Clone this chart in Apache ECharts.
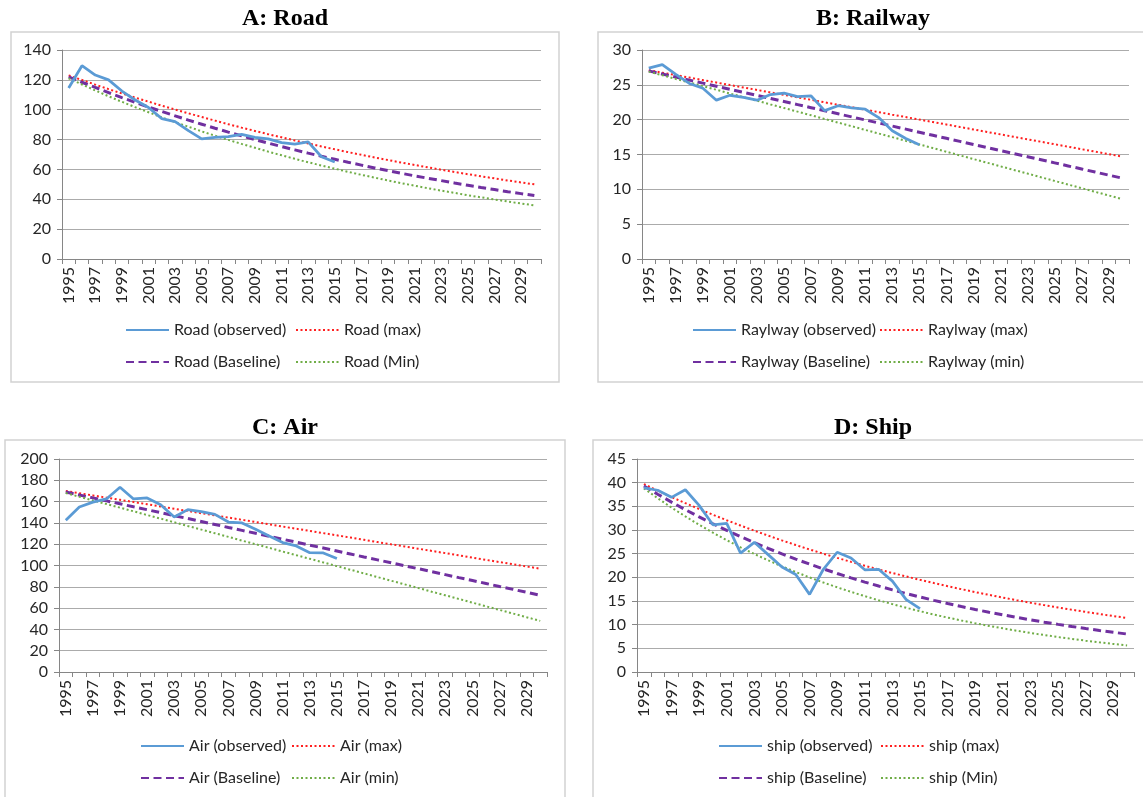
<!DOCTYPE html>
<html lang="en">
<head>
<meta charset="UTF-8">
<title>Transport projections</title>
<script src="https://cdn.jsdelivr.net/npm/echarts@6/dist/echarts.min.js"></script>
<style>
    html, body { margin: 0; padding: 0; background: #fff; }
    #chart { width: 1143px; height: 797px; }
</style>
</head>
<body>
<div id="chart"></div>
<script type="text/javascript">

    var years = ['1995', '1996', '1997', '1998', '1999', '2000', '2001', '2002', '2003', '2004', '2005', '2006',
        '2007', '2008', '2009', '2010', '2011', '2012', '2013', '2014', '2015', '2016', '2017', '2018',
        '2019', '2020', '2021', '2022', '2023', '2024', '2025', '2026', '2027', '2028', '2029', '2030'];

    // A: Road
    var roadObserved = [114.5, 129.5, 123.2, 120, 112.5, 106.5, 101.5, 94, 92, 86, 80.5, 81.5, 82, 83.5, 81.5, 80.5, 78, 77, 78.5, 68.5, 65];
    var roadMax = [123, 119.9, 116.8, 113.8, 110.9, 108.1, 105.4, 102.7, 100.1, 97.6, 95.1, 92.7, 90.3, 88, 85.8, 83.6, 81.5, 79.4,
        77.4, 75.4, 73.5, 71.6, 69.8, 68, 66.3, 64.6, 63, 61.4, 59.8, 58.3, 56.8, 55.4, 54, 52.6, 51.3, 50];
    var roadBaseline = [122, 118.4, 114.9, 111.5, 108.1, 104.9, 101.8, 98.8, 95.9, 93, 90.3, 87.6, 85, 82.5, 80, 77.6, 75.3, 73.1,
        70.9, 68.8, 66.8, 64.8, 62.9, 61, 59.2, 57.4, 55.7, 54.1, 52.5, 50.9, 49.4, 47.9, 46.5, 45.1, 43.8, 42.5];
    var roadMin = [121, 116.9, 112.9, 109, 105.3, 101.7, 98.3, 94.9, 91.7, 88.6, 85.5, 82.6, 79.8, 77.1, 74.5, 71.9, 69.5, 67.1,
        64.8, 62.6, 60.5, 58.4, 56.4, 54.5, 52.6, 50.8, 49.1, 47.4, 45.8, 44.3, 42.7, 41.3, 39.9, 38.5, 37.2, 35.9];

    // B: Railway
    var railObserved = [27.4, 27.9, 26.5, 25.2, 24.5, 22.8, 23.5, 23.2, 22.8, 23.6, 23.8, 23.3, 23.4, 21.3, 22, 21.7, 21.5, 20.3, 18.4, 17.3, 16.4];
    var railMax = [27.1, 26.75, 26.39, 26.04, 25.68, 25.33, 24.97, 24.62, 24.27, 23.91, 23.56, 23.2, 22.85, 22.49, 22.14, 21.79,
        21.43, 21.08, 20.72, 20.37, 20.01, 19.66, 19.31, 18.95, 18.6, 18.24, 17.89, 17.53, 17.18, 16.83, 16.47, 16.12, 15.76,
        15.41, 15.05, 14.7];
    var railBaseline = [27, 26.56, 26.12, 25.68, 25.24, 24.8, 24.36, 23.92, 23.48, 23.04, 22.6, 22.16, 21.72, 21.28, 20.84, 20.4,
        19.96, 19.52, 19.08, 18.64, 18.2, 17.76, 17.32, 16.88, 16.44, 16, 15.56, 15.12, 14.68, 14.24, 13.8, 13.36, 12.92,
        12.48, 12.04, 11.6];
    var railMin = [26.9, 26.38, 25.85, 25.33, 24.81, 24.29, 23.76, 23.24, 22.72, 22.19, 21.67, 21.15, 20.63, 20.1, 19.58, 19.06,
        18.53, 18.01, 17.49, 16.96, 16.44, 15.92, 15.4, 14.87, 14.35, 13.83, 13.3, 12.78, 12.26, 11.73, 11.21, 10.69, 10.17,
        9.64, 9.12, 8.6];

    // C: Air
    var airObserved = [142.4, 155, 159.5, 162.5, 173.5, 162.5, 163.4, 157, 145.5, 152.5, 150.5, 148, 140.8, 140, 134, 127.7, 121.5, 118.4, 112, 111.8, 106.5];
    var airMax = [170, 167.9, 165.8, 163.7, 161.7, 159.6, 157.5, 155.4, 153.3, 151.2, 149.1, 147.1, 145, 142.9, 140.8, 138.7,
        136.6, 134.5, 132.5, 130.4, 128.3, 126.2, 124.1, 122, 119.9, 117.9, 115.8, 113.7, 111.6, 109.5, 107.4, 105.3, 103.2,
        101.2, 99.1, 97];
    var airBaseline = [169, 166.2, 163.5, 160.7, 157.9, 155.1, 152.4, 149.6, 146.8, 144.1, 141.3, 138.5, 135.7, 133, 130.2, 127.4,
        124.7, 121.9, 119.1, 116.4, 113.6, 110.8, 108, 105.3, 102.5, 99.7, 97, 94.2, 91.4, 88.6, 85.9, 83.1, 80.3, 77.6, 74.8, 72];
    var airMin = [168, 164.6, 161.1, 157.7, 154.3, 150.9, 147.4, 144, 140.6, 137.1, 133.7, 130.3, 126.9, 123.4, 120, 116.6,
        113.1, 109.7, 106.3, 102.9, 99.4, 96, 92.6, 89.1, 85.7, 82.3, 78.9, 75.4, 72, 68.6, 65.1, 61.7, 58.3, 54.9, 51.4, 48];

    // D: Ship
    var shipObserved = [38.9, 38.4, 36.9, 38.5, 35.2, 31.1, 31.4, 25.1, 27.4, 24.8, 22.2, 20.6, 16.4, 21.7, 25.3, 24.1, 21.6, 21.7, 19.2, 15.3, 13.4];
    var shipMax = [39.7, 38.31, 36.97, 35.68, 34.43, 33.22, 32.06, 30.94, 29.86, 28.81, 27.8, 26.83, 25.89, 24.98, 24.11, 23.27,
        22.45, 21.67, 20.91, 20.18, 19.47, 18.79, 18.13, 17.5, 16.88, 16.29, 15.72, 15.17, 14.64, 14.13, 13.63, 13.16, 12.7,
        12.25, 11.82, 11.41];
    var shipBaseline = [39.3, 37.56, 35.89, 34.3, 32.77, 31.32, 29.93, 28.6, 27.33, 26.11, 24.95, 23.85, 22.79, 21.78, 20.81,
        19.89, 19, 18.16, 17.35, 16.58, 15.85, 15.14, 14.47, 13.83, 13.21, 12.63, 12.07, 11.53, 11.02, 10.53, 10.06, 9.62,
        9.19, 8.78, 8.39, 8.02];
    var shipMin = [38.8, 36.71, 34.74, 32.87, 31.1, 29.43, 27.84, 26.35, 24.93, 23.59, 22.32, 21.12, 19.98, 18.91, 17.89, 16.93,
        16.02, 15.16, 14.34, 13.57, 12.84, 12.15, 11.5, 10.88, 10.29, 9.74, 9.22, 8.72, 8.25, 7.81, 7.39, 6.99, 6.62, 6.26,
        5.92, 5.61];

    var panels = [
        {title: 'A: Road', tx: 285, ty: 7, box: [11, 32, 548, 350], grid: [62, 50, 479, 209], yMax: 140, yStep: 20,
            lx: [125, 295], ly: 322,
            names: ['Road (observed)', 'Road (max)', 'Road (Baseline)', 'Road (Min)'],
            data: [roadObserved, roadMax, roadBaseline, roadMin]},
        {title: 'B: Railway', tx: 873, ty: 7, box: [598, 32, 600, 350], grid: [642, 50, 487, 209], yMax: 30, yStep: 5,
            lx: [692, 879], ly: 322,
            names: ['Raylway (observed)', 'Raylway (max)', 'Raylway (Baseline)', 'Raylway (min)'],
            data: [railObserved, railMax, railBaseline, railMin]},
        {title: 'C: Air', tx: 285, ty: 416, box: [5, 440, 560, 400], grid: [59, 459, 488, 213], yMax: 200, yStep: 20,
            lx: [140, 291], ly: 738,
            names: ['Air (observed)', 'Air (max)', 'Air (Baseline)', 'Air (min)'],
            data: [airObserved, airMax, airBaseline, airMin]},
        {title: 'D: Ship', tx: 873, ty: 416, box: [593, 440, 600, 400], grid: [637, 459, 497, 213], yMax: 45, yStep: 5,
            lx: [718, 880], ly: 738,
            names: ['ship (observed)', 'ship (max)', 'ship (Baseline)', 'ship (Min)'],
            data: [shipObserved, shipMax, shipBaseline, shipMin]}
    ];

    // observed, max, baseline, min
    var lineStyles = [
        {color: '#5b9bd5', type: 'solid', width: 2.75},
        {color: '#ff1f1f', type: [2, 2.5], width: 2},
        {color: '#7030a0', type: [8, 4.5], width: 3},
        {color: '#70ad47', type: [2, 2.5], width: 2}
    ];

    var labelFont = 'Lato';
    var textColor = '#262626';
    var option = {
        animation: false,
        backgroundColor: '#fff',
        title: [], grid: [], xAxis: [], yAxis: [], legend: [], series: [], graphic: []
    };

    panels.forEach(function (p, i) {
        option.graphic.push({
            type: 'rect', silent: true, z: -10,
            shape: {x: p.box[0], y: p.box[1], width: p.box[2], height: p.box[3]},
            style: {fill: 'none', stroke: '#d2d2d2', lineWidth: 1.5}
        });
        option.title.push({
            text: p.title, left: p.tx, top: p.ty, textAlign: 'center', padding: 0,
            textStyle: {fontFamily: 'Liberation Serif', fontWeight: 'bold', fontSize: 24, color: '#000'}
        });
        option.grid.push({left: p.grid[0], top: p.grid[1], width: p.grid[2], height: p.grid[3], containLabel: false});
        option.xAxis.push({
            type: 'category', gridIndex: i, data: years, boundaryGap: true,
            axisLine: {lineStyle: {color: '#868686', width: 1}},
            axisTick: {show: true, interval: 0, length: 5, lineStyle: {color: '#868686'}},
            axisLabel: {interval: 1, rotate: 90, margin: 8, fontFamily: labelFont, fontSize: 16, color: textColor},
            splitLine: {show: false}
        });
        option.yAxis.push({
            type: 'value', gridIndex: i, min: 0, max: p.yMax, interval: p.yStep,
            axisLine: {show: true, lineStyle: {color: '#868686', width: 1}},
            axisTick: {show: true, length: 5, lineStyle: {color: '#868686'}},
            axisLabel: {margin: 11, fontFamily: labelFont, fontSize: 16, color: textColor},
            splitLine: {show: true, lineStyle: {color: '#ababab', width: 1}}
        });
        [[0, 2], [1, 3]].forEach(function (col, c) {
            option.legend.push({
                orient: 'vertical', left: p.lx[c], top: p.ly, itemWidth: 43, itemHeight: 14, itemGap: 16,
                padding: 0, selectedMode: false,
                itemStyle: {opacity: 0},
                textStyle: {fontFamily: labelFont, fontSize: 16, color: textColor},
                data: col.map(function (k) { return p.names[k]; })
            });
        });
        p.names.forEach(function (name, k) {
            var s = lineStyles[k];
            option.series.push({
                name: name, type: 'line', xAxisIndex: i, yAxisIndex: i,
                symbol: 'none', showSymbol: false, smooth: false,
                color: s.color,
                lineStyle: {color: s.color, type: s.type, width: s.width},
                z: k === 0 ? 3 : 2,
                data: p.data[k]
            });
        });
    });

    var chart = echarts.init(document.getElementById('chart'));
    chart.setOption(option);
</script>
</body>
</html>
